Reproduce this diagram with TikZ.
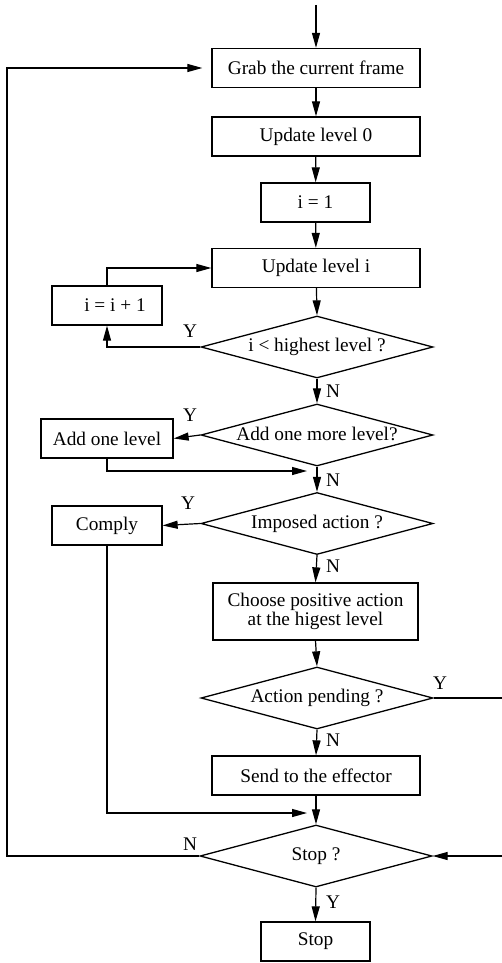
\documentclass[tikz,border=0pt]{standalone}
\usepackage{fontspec}
\setmainfont{Liberation Serif}
\usetikzlibrary{arrows.meta,shapes.geometric}
\begin{document}
\begin{tikzpicture}[x=1pt,y=-1pt,
  every node/.style={font=\fontsize{19.3}{22}\selectfont},
  box/.style={draw,rectangle,line width=1.3pt,inner sep=0pt,minimum height=39pt,align=center},
  dia/.style={draw,diamond,line width=1.3pt,inner sep=0pt,minimum width=232pt,minimum height=62pt},
  lbl/.style={inner sep=0pt},
  conn/.style={line width=1.2pt},
  arr/.style={conn,-{Triangle[length=15pt,width=8pt]}}
]
\useasboundingbox (0,0) rectangle (501,963);
\node[box,minimum width=208pt] (grab) at (316,68) {Grab the current frame};
\node[box,minimum width=208pt] (upd0) at (316,136.5) {Update level 0};
\node[box,minimum width=109pt] (i1) at (315.5,202.5) {i = 1};
\node[box,minimum width=208pt] (updi) at (316,268) {Update level i};
\node[dia] (d1) at (317,347) {\makebox[0pt]{i {\textless} highest level ?}};
\node[box,minimum width=110pt] (incr) at (107,305.5) {\makebox[0pt]{\hspace*{16pt}i = i + 1}};
\node[dia] (d2) at (317,435) {\makebox[0pt]{\raisebox{2pt}{Add one more level?}}};
\node[box,minimum width=132pt] (addl) at (107,438.5) {Add one level};
\node[dia] (d3) at (317,523.5) {\makebox[0pt]{Imposed action ?}};
\node[box,minimum width=110pt] (comply) at (107,525.5) {Comply};
\node[box,minimum width=205pt,minimum height=57pt] (choose) at (315.5,611.5) {Choose positive action\\[-3pt]at the higest level};
\node[dia] (d4) at (317,698) {\makebox[0pt]{Action pending ?}};
\node[box,minimum width=208pt] (send) at (316,775.5) {Send to the effector};
\node[dia] (d5) at (316,856) {\makebox[0pt]{Stop ?}};
\node[box,minimum width=109pt] (stop) at (315.5,941.5) {Stop};

\coordinate (start) at (316,5);
\coordinate (loopL) at (7,856);
\coordinate (j1) at (307,471);
\coordinate (j2) at (307,813);
\coordinate (rightT) at (503,698);
\coordinate (rightB) at (503,856);

\draw[arr] (start) -- (grab.north);
\draw[arr] (grab) -- (upd0);
\draw[arr] (upd0) -- (i1);
\draw[arr] (i1) -- (updi);
\draw[arr] (updi) -- (d1.north);
\draw[arr] (d1.west) -| (incr.south);
\draw[arr] (incr.north) |- (updi.west);
\draw[arr] (d1.south) -- (d2.north);
\draw[arr] (d2.west) -- (addl.east);
\draw[arr] (addl.south) |- (j1);
\draw[arr] (d2.south) -- (d3.north);
\draw[arr] (d3.west) -- (comply.east);
\draw[arr] (d3.south) -- (choose.north);
\draw[arr] (choose.south) -- (d4.north);
\draw[arr] (d4.south) -- (send.north);
\draw[arr] (send.south) -- (d5.north);
\draw[arr] (comply.south) |- (j2);
\draw[arr] (d4.east) -- (rightT) -- (rightB) -- (d5.east);
\draw[arr] (d5.west) -- (loopL) |- ([xshift=-9pt]grab.west);
\draw[arr] (d5.south) -- (stop.north);

\node[lbl] (y1) at (190,331) {Y};
\node[lbl] (n1) at (333,391) {N};
\node[lbl] (y2) at (190,415) {Y};
\node[lbl] (n2) at (333,480) {N};
\node[lbl] (y3) at (188,503) {Y};
\node[lbl] (n3) at (333,566) {N};
\node[lbl] (y4) at (440,683) {Y};
\node[lbl] (n4) at (333,740) {N};
\node[lbl] (n5) at (190,844) {N};
\node[lbl] (y5) at (333,902) {Y};
\end{tikzpicture}
\end{document}
